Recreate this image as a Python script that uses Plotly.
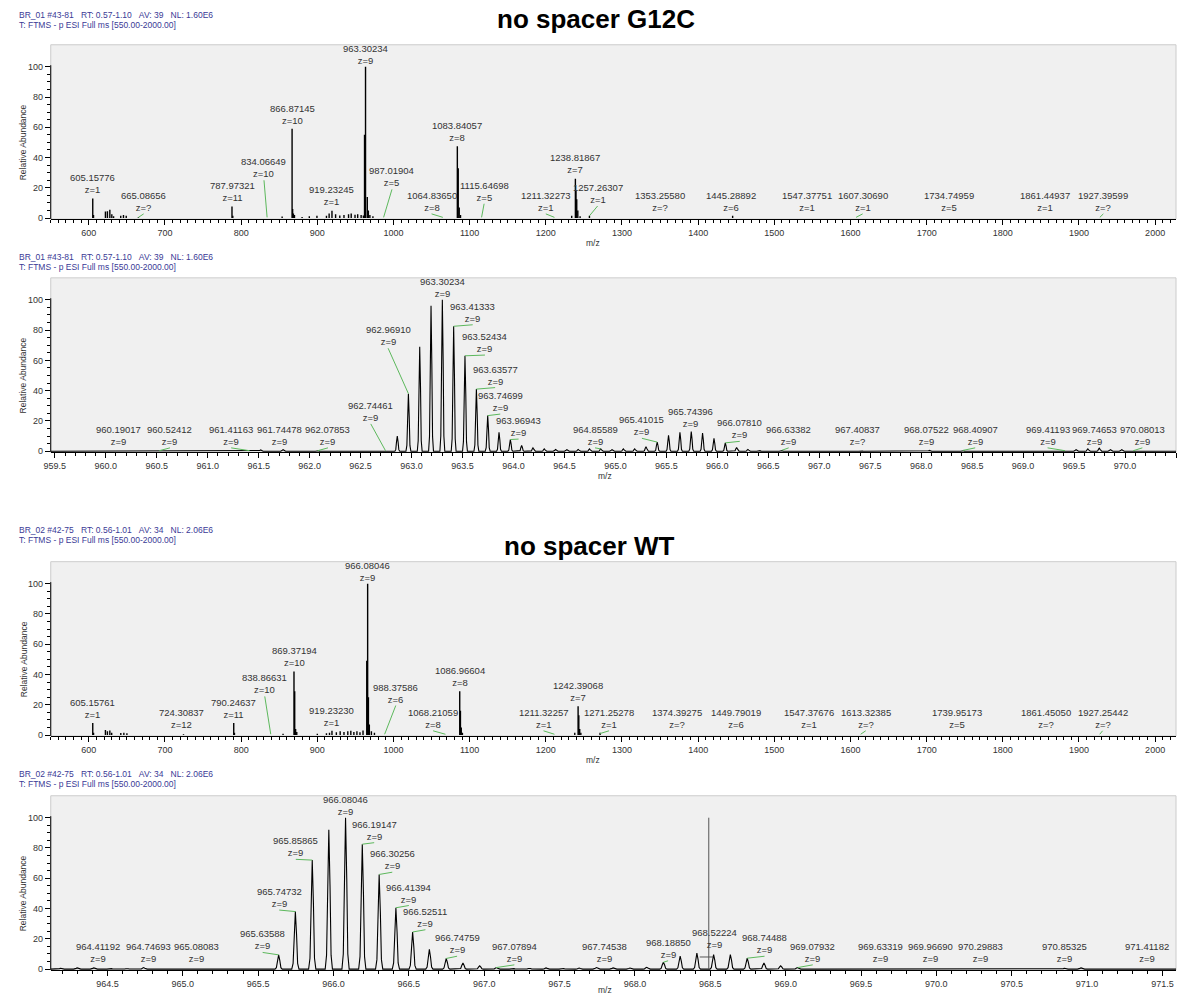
import plotly.graph_objects as go

FONT = "Liberation Sans, Arial, sans-serif"
W, H = 1178, 997

# ---------------- data: panel 1 (no spacer G12C, full scan) ----------------
p1_mz = [605.16, 606.16, 621.8, 624.4, 627.6, 630.2, 632.5, 641.9, 645.5, 649.1, 665.09,
         787.97, 789.0, 853.8, 866.87, 867.6, 868.6, 870.0, 880.0, 889.5, 899.5, 912.0,
         915.5, 919.23, 924.0, 929.5, 935.0, 941.0, 944.5, 949.5, 953.0, 957.5, 960.5,
         962.0, 963.30, 965.6, 967.0, 969.0, 973.0, 1083.84, 1085.0, 1086.3, 1088.0,
         1234.0, 1238.82, 1239.6, 1240.6, 1242.0, 1245.0, 1257.26, 1445.29]
p1_int = [13, 2, 4.4, 4.6, 5.5, 2.6, 1.2, 1.6, 2.0, 1.5, 0.6,
          7.7, 1.5, 1.0, 59, 6, 3, 2.0, 0.8, 1.2, 1.5, 1.5,
          3.0, 4.8, 2.5, 1.8, 2.0, 2.5, 3.0, 2.2, 2.6, 2.0, 1.8,
          55, 100, 14, 5, 2, 1.2, 47.5, 33, 7, 2.0,
          1.5, 26, 18, 12.5, 5, 1.2, 1.5, 1.5]
p1_lab_text = ["605.15776", "665.08656", "787.97321", "834.06649", "866.87145", "919.23245",
               "963.30234", "987.01904", "1064.83650", "1083.84057", "1115.64698", "1211.32273",
               "1238.81867", "1257.26307", "1353.25580", "1445.28892", "1547.37751", "1607.30690",
               "1734.74959", "1861.44937", "1927.39599"]
p1_lab_z = ["1", "?", "11", "10", "10", "1", "9", "5", "8", "8", "5", "1", "7", "1", "?", "6",
            "1", "1", "5", "1", "?"]
p1_lab_x = [605.2, 672, 788, 830, 866.9, 919.2, 963.3, 998, 1050, 1083.8, 1119, 1200,
            1238.8, 1268, 1350, 1443, 1543, 1616, 1730, 1855, 1932]
p1_lab_y = [14.5, 2.8, 9.5, 25, 60.5, 6.5, 100, 19, 2.8, 49, 9.5, 2.8,
            27.5, 8, 2.8, 2.8, 2.8, 2.8, 2.8, 2.8, 2.8]
p1_lab_peak = [None, 0.5, None, 0.5, None, None, None, 0.5, 0.5, None, 0.5, 0.5,
               None, 1.5, None, None, None, 0.5, None, None, 0.5]

# ---------------- data: panel 2 (no spacer G12C, zoom 959.5-970.5) ----------------
p2_mz = [961.52, 961.74, 962.08, 962.86, 962.969, 963.080, 963.191, 963.302, 963.413, 963.524,
         963.636, 963.747, 963.858, 963.969, 964.080, 964.191, 964.302, 964.413, 964.524,
         964.635, 964.746, 964.856, 964.967, 965.078, 965.189, 965.300, 965.410, 965.521,
         965.633, 965.744, 965.855, 965.967, 966.078, 966.189, 966.300, 966.411, 966.63,
         967.41, 968.08, 968.41, 969.52, 969.635, 969.747, 969.857, 969.968]
p2_int = [0.8, 1.0, 0.5, 10, 38, 69, 96, 100, 82.5, 63,
          41, 23.5, 12.5, 7.7, 3.8, 2.2, 1.5, 1.1, 1.0,
          1.2, 1.5, 1.5, 1.0, 1.5, 1.5, 3.0, 6.0, 10.5,
          12.5, 13, 12, 8.5, 5.5, 2.5, 1.2, 0.6, 0.6,
          0.4, 0.5, 0.5, 1.0, 1.5, 2.0, 1.0, 1.0]
p2_lab_text = ["960.19017", "960.52412", "961.41163", "961.74478", "962.07853", "962.74461",
               "962.96910", "963.30234", "963.41333", "963.52434", "963.63577", "963.74699",
               "963.96943", "964.85589", "965.41015", "965.74396", "966.07810", "966.63382",
               "967.40837", "968.07522", "968.40907", "969.41193", "969.74653", "970.08013"]
p2_lab_z = ["9"] * 18 + ["?"] + ["9"] * 5
p2_lab_x = [960.12, 960.63, 961.23, 961.70, 962.18, 962.60, 962.77, 963.30, 963.60, 963.72,
            963.82, 963.87, 964.05, 964.80, 965.26, 965.74, 966.22, 966.70, 967.38, 968.05,
            968.53, 969.24, 969.70, 970.17]
p2_lab_y = [2.2, 2.2, 2.2, 2.2, 2.2, 18, 68, 100, 83.5, 63.5, 42, 24.5, 8, 2.2, 8.5, 14,
            6.5, 2.2, 2.2, 2.2, 2.2, 2.2, 2.2, 2.2]
p2_lab_peak = [None, 0.3, 0.3, None, 0.3, 0.3, 38, None, 82.5, 63, 41, 23.5, 7.7, 1.5, 6,
               None, 5.5, 0.6, None, None, 0.5, 0.3, None, 0.3]

# ---------------- data: panel 3 (no spacer WT, full scan) ----------------
p3_mz = [605.16, 606.2, 621.8, 624.4, 627.6, 630.0, 642, 646, 650, 724.3, 790.25, 791.2,
         855, 869.37, 870.3, 871.5, 873.0, 900, 912, 916, 919.23, 925, 930, 935, 940, 944,
         948, 952, 956, 960, 964.9, 966.08, 967.1, 968.3, 971, 975, 1086.97, 1087.9,
         1089.0, 1090.5, 1238, 1242.39, 1243.3, 1244.5, 1246.0, 1271.25]
p3_int = [8, 1.5, 3.3, 2.5, 3, 1.5, 1.3, 1.5, 1.2, 0.5, 8, 1.5,
          0.8, 42, 29, 4, 2, 0.8, 1.2, 1.5, 2.8, 1.8, 2.5, 2.0, 2.5, 2.8,
          2.0, 2.5, 1.8, 3, 49, 100, 25, 7, 2.5, 1.5, 29, 16,
          5, 1.5, 1.5, 19, 13, 4, 1.5, 1.5]
p3_lab_text = ["605.15761", "724.30837", "790.24637", "838.86631", "869.37194", "919.23230",
               "966.08046", "988.37586", "1068.21059", "1086.96604", "1211.32257", "1242.39068",
               "1271.25278", "1374.39275", "1449.79019", "1547.37676", "1613.32385",
               "1739.95173", "1861.45050", "1927.25442"]
p3_lab_z = ["1", "12", "11", "10", "10", "1", "9", "6", "8", "8", "1", "7", "1", "?", "6",
            "1", "?", "5", "?", "?"]
p3_lab_x = [605.2, 722, 790.2, 831, 869.4, 919.2, 966.1, 1003, 1052, 1087, 1197, 1242.4,
            1283, 1372, 1450, 1546, 1620, 1740, 1857, 1931]
p3_lab_y = [9.5, 2.8, 9.5, 25.5, 43.5, 4, 100, 19.5, 2.8, 30.5, 2.8, 20.5,
            2.8, 2.8, 2.8, 2.8, 2.8, 2.8, 2.8, 2.8]
p3_lab_peak = [None, None, None, 0.5, None, None, None, 0.5, 0.5, None, 0.5, None,
               1.0, None, None, None, 0.5, None, None, 0.5]

# ---------------- data: panel 4 (no spacer WT, zoom 964.1-971.6) ----------------
p4_mz = [964.19, 964.30, 964.41, 964.52, 964.63, 964.74, 965.08, 965.636, 965.747, 965.859,
         965.969, 966.080, 966.191, 966.303, 966.414, 966.525, 966.636, 966.748, 966.859,
         966.970, 967.081, 967.19, 967.30, 967.41, 967.52, 967.63, 967.745, 967.856, 967.967,
         968.078, 968.189, 968.300, 968.411, 968.522, 968.633, 968.745, 968.856, 968.967,
         969.078, 969.19, 969.63, 969.97, 970.30, 970.85, 970.96]
p4_int = [0.5, 0.8, 0.8, 0.5, 0.4, 1.0, 0.4, 9.4, 38, 72,
          92, 100, 82.5, 62.5, 40.5, 24.5, 13, 7, 4,
          2.2, 1.0, 0.5, 0.6, 0.8, 0.6, 0.7, 1.0, 0.8, 0.7,
          1.2, 4.5, 8.5, 10.5, 9.5, 9.5, 7.2, 4.0, 2.2,
          1.0, 0.4, 0.4, 0.3, 0.4, 0.5, 0.8]
p4_cursor_mz = 968.49
p4_cursor_int = 100
p4_cursor_bar = [968.43, 968.52, 8.0]
p4_lab_text = ["964.41192", "964.74693", "965.08083", "965.63588", "965.74732", "965.85865",
               "966.08046", "966.19147", "966.30256", "966.41394", "966.52511", "966.74759",
               "967.07894", "967.74538", "968.18850", "968.52224", "968.74488", "969.07932",
               "969.63319", "969.96690", "970.29883", "970.85325", "971.41182"]
p4_lab_z = ["9"] * 23
p4_lab_x = [964.44, 964.77, 965.09, 965.53, 965.64, 965.75, 966.08, 966.27, 966.39, 966.50,
            966.61, 966.82, 967.20, 967.80, 968.22, 968.53, 968.86, 969.18, 969.63, 969.96,
            970.29, 970.85, 971.40]
p4_lab_y = [2.8, 2.8, 2.8, 11, 39, 72.5, 100, 83.5, 64, 42, 26, 8.5, 2.8, 2.8, 5.5, 12,
            8.5, 2.8, 2.8, 2.8, 2.8, 2.8, 2.8]
p4_lab_peak = [None, None, None, 9.4, 38, 72, None, 82.5, 62.5, 40.5, 24.5, 7, 1.0, None,
               4.5, None, 7.2, 1.0, None, None, None, None, None]

# ---------------- headers / titles ----------------
SP = "\u00a0\u00a0\u00a0"
hdr_g12c = [f"BR_01 #43-81{SP}RT: 0.57-1.10{SP}AV: 39{SP}NL: 1.60E6",
            "T: FTMS - p ESI Full ms [550.00-2000.00]"]
hdr_wt = [f"BR_02 #42-75{SP}RT: 0.56-1.01{SP}AV: 34{SP}NL: 2.06E6",
          "T: FTMS - p ESI Full ms [550.00-2000.00]"]

# ---------------- layout geometry (pixels) ----------------
YTOP, YBOT, PXU = 114.5, -0.66, 1.52
XL, XR = 44, 1176

panels = [
    dict(kind="stick", mz=p1_mz, it=p1_int, lt=p1_lab_text, lz=p1_lab_z, lx=p1_lab_x,
         ly=p1_lab_y, lp=p1_lab_peak, base=219, xr=[550, 2027.4], dtick=100, minor=10,
         fmt="d", hdr=hdr_g12c, hdr_y=[15, 25], mz_lab=(590, 244)),
    dict(kind="prof", mz=p2_mz, it=p2_int, lt=p2_lab_text, lz=p2_lab_z, lx=p2_lab_x,
         ly=p2_lab_y, lp=p2_lab_peak, base=453, xr=[959.46, 970.50], dtick=0.5, minor=0.1,
         fmt=".1f", hdr=hdr_g12c, hdr_y=[258, 268], mz_lab=(602, 478)),
    dict(kind="stick", mz=p3_mz, it=p3_int, lt=p3_lab_text, lz=p3_lab_z, lx=p3_lab_x,
         ly=p3_lab_y, lp=p3_lab_peak, base=738, xr=[550, 2027.4], dtick=100, minor=10,
         fmt="d", hdr=hdr_wt, hdr_y=[532, 542], mz_lab=(590, 763)),
    dict(kind="prof", mz=p4_mz, it=p4_int, lt=p4_lab_text, lz=p4_lab_z, lx=p4_lab_x,
         ly=p4_lab_y, lp=p4_lab_peak, base=973, xr=[964.124, 971.59], dtick=0.5, minor=0.1,
         fmt=".1f", hdr=hdr_wt, hdr_y=[777, 787], mz_lab=(602, 994)),
]

# peak-shape template for profile panels (style only)
SHAPE_DX = [-0.024, -0.015, -0.008, 0.0, 0.008, 0.015, 0.024]
SHAPE_F = [0.0, 0.10, 0.60, 1.0, 0.60, 0.10, 0.0]

fig = go.Figure()
annotations = []
shapes = []
layout = {}

TXT = "#333333"
GREEN = "#5cb85c"
HDR = "#3a3a96"

for i, p in enumerate(panels, start=1):
    sfx = "" if i == 1 else str(i)
    xa, ya = "x" + sfx, "y" + sfx
    # spectrum
    xs, ys = [], []
    if p["kind"] == "stick":
        for m, v in zip(p["mz"], p["it"]):
            xs += [m, m, None]
            ys += [0, v, None]
        fig.add_trace(go.Scatter(x=xs, y=ys, mode="lines", line=dict(color="black", width=1.4),
                                 xaxis=xa, yaxis=ya, hoverinfo="skip", showlegend=False))
    else:
        xs.append(p["xr"][0]); ys.append(0)
        for m, v in sorted(zip(p["mz"], p["it"])):
            for dx, f in zip(SHAPE_DX, SHAPE_F):
                xs.append(m + dx); ys.append(v * f)
        xs.append(p["xr"][1]); ys.append(0)
        fig.add_trace(go.Scatter(x=xs, y=ys, mode="lines", line=dict(color="black", width=1.1),
                                 xaxis=xa, yaxis=ya, hoverinfo="skip", showlegend=False))
    # leaders
    lxs, lys = [], []
    for t, lx, ly, lp in zip(p["lt"], p["lx"], p["ly"], p["lp"]):
        if lp is not None:
            lxs += [float(t), lx, None]
            lys += [lp, ly, None]
    if lxs:
        fig.add_trace(go.Scatter(x=lxs, y=lys, mode="lines", line=dict(color=GREEN, width=1),
                                 xaxis=xa, yaxis=ya, hoverinfo="skip", showlegend=False))
    # labels
    for t, z, lx, ly in zip(p["lt"], p["lz"], p["lx"], p["ly"]):
        annotations.append(dict(x=lx, y=ly, xref=xa, yref=ya, text=f"{t}<br>z={z}",
                                showarrow=False, yanchor="bottom", xanchor="center",
                                borderpad=0, font=dict(family=FONT, size=9.5, color=TXT)))
    # axes
    top_px = p["base"] - YTOP * PXU
    bot_px = p["base"] - YBOT * PXU
    layout["xaxis" + sfx] = dict(domain=[XL / W, XR / W], range=p["xr"], anchor=ya,
                                 showline=True, linecolor="black", linewidth=1,
                                 ticks="outside", ticklen=5, tickcolor="black", tickwidth=1,
                                 dtick=p["dtick"], tick0=0, tickformat=p["fmt"],
                                 tickfont=dict(family=FONT, size=9, color=TXT),
                                 minor=dict(dtick=p["minor"], tick0=0, ticks="outside", ticklen=3,
                                            tickcolor="black", showgrid=False),
                                 showgrid=False, zeroline=False, fixedrange=True)
    layout["yaxis" + sfx] = dict(domain=[1 - bot_px / H, 1 - top_px / H], range=[YBOT, YTOP],
                                 anchor=xa, showline=False,
                                 ticks="outside", ticklen=5, tickcolor="black", tickwidth=1,
                                 tickvals=[0, 20, 40, 60, 80, 100],
                                 tickfont=dict(family=FONT, size=9, color=TXT),
                                 minor=dict(tickvals=[5, 10, 15, 25, 30, 35, 45, 50, 55, 65, 70,
                                                      75, 85, 90, 95],
                                            ticks="outside", ticklen=3, tickcolor="black",
                                            showgrid=False),
                                 showgrid=False, zeroline=False, fixedrange=True)
    # box
    shapes.append(dict(type="rect", xref=xa + " domain", yref=ya + " domain", x0=0, x1=1,
                       y0=0, y1=1, line=dict(color="#cccccc", width=1), layer="below"))
    # y axis line (0..~101)
    shapes.append(dict(type="line", xref=xa + " domain", yref=ya, x0=0, x1=0, y0=YBOT, y1=101,
                       line=dict(color="black", width=1)))
    # headers
    for txt, yy in zip(p["hdr"], p["hdr_y"]):
        annotations.append(dict(x=10 / W, y=1 - yy / H, xref="paper", yref="paper", text=txt,
                                showarrow=False, xanchor="left", yanchor="middle",
                                font=dict(family=FONT, size=8.5, color=HDR)))
    # y title
    annotations.append(dict(x=17 / W, y=1 - (p["base"] - 50 * PXU) / H, xref="paper",
                            yref="paper", text="Relative Abundance", textangle=-90,
                            showarrow=False, xanchor="center", yanchor="middle",
                            font=dict(family=FONT, size=8.5, color=TXT)))
    # m/z
    annotations.append(dict(x=p["mz_lab"][0] / W, y=1 - p["mz_lab"][1] / H, xref="paper",
                            yref="paper", text="m/z", showarrow=False, xanchor="center",
                            yanchor="middle", font=dict(family=FONT, size=8.5, color=TXT)))

# cursor marker in panel 4
fig.add_trace(go.Scatter(x=[p4_cursor_mz, p4_cursor_mz, None, p4_cursor_bar[0], p4_cursor_bar[1]],
                         y=[0, p4_cursor_int, None, p4_cursor_bar[2], p4_cursor_bar[2]],
                         mode="lines", line=dict(color="#555555", width=1),
                         xaxis="x4", yaxis="y4", hoverinfo="skip", showlegend=False))

# titles
annotations.append(dict(x=593 / W, y=1 - 19 / H, xref="paper", yref="paper",
                        text="<b>no spacer G12C</b>", showarrow=False, xanchor="center",
                        yanchor="middle", font=dict(family=FONT, size=26, color="black")))
annotations.append(dict(x=586 / W, y=1 - 548 / H, xref="paper", yref="paper",
                        text="<b>no spacer WT</b>", showarrow=False, xanchor="center",
                        yanchor="middle", font=dict(family=FONT, size=26, color="black")))

fig.update_layout(width=W, height=H, autosize=False,
                  margin=dict(l=0, r=0, t=0, b=0),
                  paper_bgcolor="white", plot_bgcolor="#f0f0f0",
                  annotations=annotations, shapes=shapes, showlegend=False,
                  font=dict(family=FONT), **layout)

fig.write_html("out.html", config={"displayModeBar": False},
               post_script="document.body.style.margin='0';document.body.style.overflow='hidden';")
